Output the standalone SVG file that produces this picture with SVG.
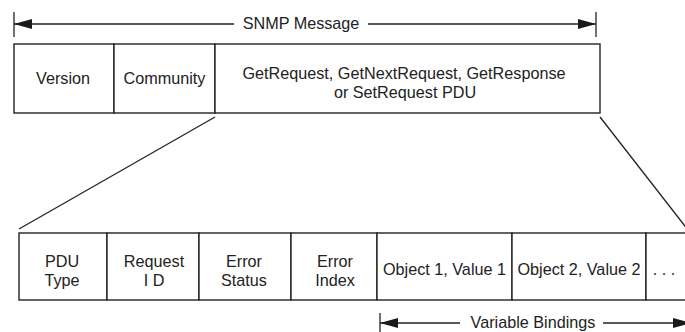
<svg xmlns="http://www.w3.org/2000/svg" width="685" height="332" viewBox="0 0 685 332">
<defs>
<marker id="ah" markerWidth="18" markerHeight="11" refX="18" refY="5.5" orient="auto" markerUnits="userSpaceOnUse">
<path d="M0,0.5 L18,5.5 L0,10.5 Z" fill="#1a1a1a"/>
</marker>
</defs>
<style>
.box{fill:#fff;stroke:#222;stroke-width:1.4}
.ln{stroke:#222;stroke-width:1.3;fill:none}
text{font-family:"Liberation Sans",Arial,sans-serif;font-size:16.2px;fill:#222;text-anchor:middle}
</style>
<rect width="685" height="332" fill="#fff"/>
<g id="connectors">
<line class="ln" x1="215" y1="117" x2="19" y2="229"/>
<line class="ln" x1="600" y1="117" x2="688" y2="230"/>
</g>
<g id="snmp-message-span">
<line class="ln" x1="14" y1="12" x2="14" y2="37"/>
<line class="ln" x1="596" y1="12" x2="596" y2="37"/>
<line class="ln" x1="234" y1="24" x2="14" y2="24" marker-end="url(#ah)"/>
<line class="ln" x1="368" y1="24" x2="596" y2="24" marker-end="url(#ah)"/>
<text x="301" y="29">SNMP Message</text>
</g>
<g id="version">
<rect class="box" x="14" y="44" width="100" height="69"/>
<text x="63" y="84">Version</text>
</g>
<g id="community">
<rect class="box" x="114" y="44" width="101" height="69"/>
<text x="164.5" y="84">Community</text>
</g>
<g id="pdu">
<rect class="box" x="215" y="44" width="385" height="69"/>
<text x="404" y="79">GetRequest, GetNextRequest, GetResponse</text>
<text x="405" y="98">or SetRequest PDU</text>
</g>
<g id="pdu-type">
<rect class="box" x="19" y="233" width="88" height="67"/>
<text x="62" y="267">PDU</text>
<text x="62" y="286">Type</text>
</g>
<g id="request-id">
<rect class="box" x="107" y="233" width="92" height="67"/>
<text x="154" y="267">Request</text>
<text x="154" y="286">I D</text>
</g>
<g id="error-status">
<rect class="box" x="199" y="233" width="92" height="67"/>
<text x="244" y="267">Error</text>
<text x="244" y="286">Status</text>
</g>
<g id="error-index">
<rect class="box" x="291" y="233" width="86" height="67"/>
<text x="335" y="267">Error</text>
<text x="335" y="286">Index</text>
</g>
<g id="object1">
<rect class="box" x="377" y="233" width="135" height="67"/>
<text x="444.5" y="275">Object 1, Value 1</text>
</g>
<g id="object2">
<rect class="box" x="512" y="233" width="134" height="67"/>
<text x="579" y="275">Object 2, Value 2</text>
</g>
<g id="more">
<rect class="box" x="646" y="233" width="60" height="67"/>
<text x="664" y="275">. . .</text>
</g>
<g id="variable-bindings-span">
<line class="ln" x1="380" y1="313" x2="380" y2="334"/>
<line class="ln" x1="460" y1="323" x2="380" y2="323" marker-end="url(#ah)"/>
<line class="ln" x1="603" y1="323" x2="691" y2="323" marker-end="url(#ah)"/>
<text x="533" y="328">Variable Bindings</text>
</g>
</svg>
